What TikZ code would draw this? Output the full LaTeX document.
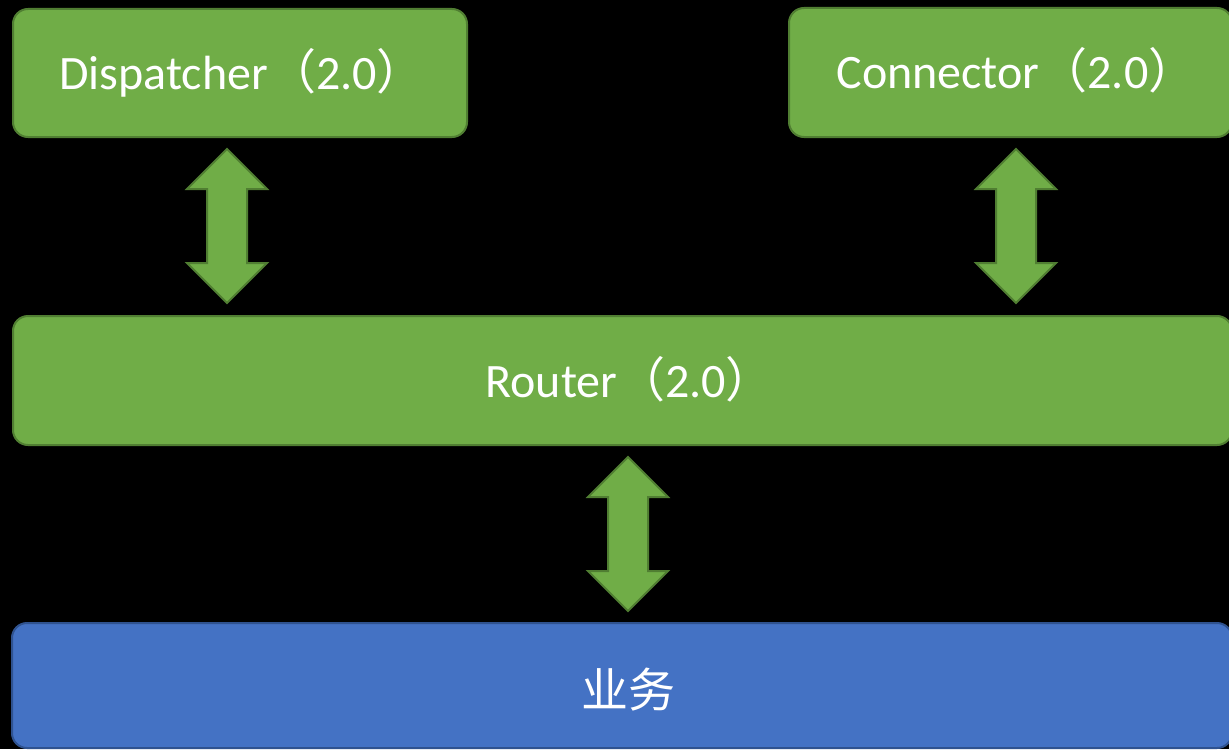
\documentclass[tikz,border=0pt]{standalone}
\usepackage{fontspec}
\setmainfont{Carlito}
\newfontfamily\cjk{Noto Sans CJK SC}
\definecolor{gfill}{HTML}{70AD47}
\definecolor{gline}{HTML}{507E32}
\definecolor{bfill}{HTML}{4472C4}
\definecolor{bline}{HTML}{2F528F}
\tikzset{
  gbox/.style={draw=gline, fill=gfill, line width=1pt, rounded corners=7.5pt, inner sep=0pt},
  bbox/.style={draw=bline, fill=bfill, line width=1pt, rounded corners=7.5pt, inner sep=0pt},
  lbl/.style={text=white, inner sep=0pt, font=\fontsize{24}{29}\selectfont},
  arrowshape/.style={draw=gline, fill=gfill, line width=1pt, line join=miter},
  dblarrow/.pic={\draw[arrowshape] (0,-77) -- (40,-37) -- (20,-37) -- (20,37) -- (40,37) -- (0,77) -- (-40,37) -- (-20,37) -- (-20,-37) -- (-40,-37) -- cycle;}
}
\begin{document}
\begin{tikzpicture}[x=0.5pt,y=-0.5pt]
\fill[black] (0,0) rectangle (1229,749);
\useasboundingbox (0,0) rectangle (1229,749);
\clip (0,0) rectangle (1229,749);
% boxes
\node[gbox, minimum width=227pt, minimum height=64pt] (disp) at (240,73) {};
\node[gbox, minimum width=221.5pt, minimum height=64.5pt] (conn) at (1010.5,72.5) {};
\node[gbox, minimum width=609.5pt, minimum height=64.5pt] (router) at (622.5,380.5) {};
\node[bbox, minimum width=610pt, minimum height=62.5pt] (biz) at (622,685.5) {};
% labels
\node[lbl, anchor=base west] (disptxt) at (59,90) {Dispatcher{\cjk （}2.0{\cjk ）}};
\node[lbl, anchor=base west] (conntxt) at (836,89) {Connector{\cjk （}2.0{\cjk ）}};
\node[lbl, anchor=base west] (routertxt) at (485,397) {Router{\cjk （}2.0{\cjk ）}};
\node[lbl, font=\cjk\fontsize{23.5}{28}\selectfont] (biztxt) at (628,690) {业务};
% block arrows
\pic at (227,226) {dblarrow};
\pic at (1016,226) {dblarrow};
\pic at (628,534) {dblarrow};
\end{tikzpicture}
\end{document}
